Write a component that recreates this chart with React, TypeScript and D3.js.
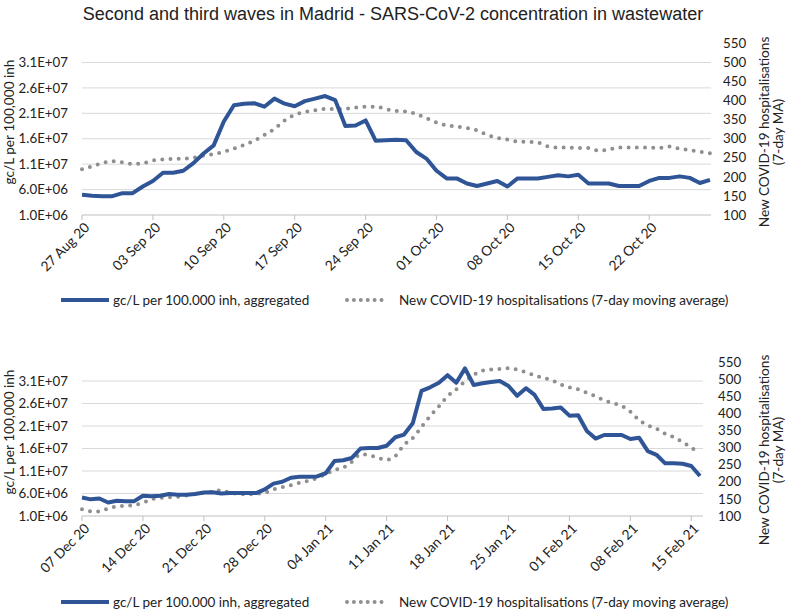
import React from "react";
import * as d3 from "d3";

const TITLE = "Second and third waves in Madrid - SARS-CoV-2 concentration in wastewater";
const LEFT_TITLE = "gc/L per 100,000 inh";
const RIGHT_TITLE_1 = "New COVID-19 hospitalisations";
const RIGHT_TITLE_2 = "(7-day MA)";
const LEGEND_LABELS = ["gc/L per 100.000 inh, aggregated", "New COVID-19 hospitalisations (7-day moving average)"];

const leftTicks = [1e6, 6e6, 1.1e7, 1.6e7, 2.1e7, 2.6e7, 3.1e7];
const rightTicks = [100, 150, 200, 250, 300, 350, 400, 450, 500, 550];

// Second wave: daily from 27 Aug 2020
const topStart = "2020-08-27";
const topConcentration = [
  5.0e6, 4.8e6, 4.7e6, 4.7e6, 5.3e6, 5.3e6, 6.6e6, 7.7e6, 9.3e6, 9.3e6,
  9.7e6, 1.12e7, 1.31e7, 1.47e7, 1.94e7, 2.26e7, 2.29e7, 2.30e7, 2.23e7, 2.39e7,
  2.29e7, 2.24e7, 2.34e7, 2.39e7, 2.44e7, 2.36e7, 1.85e7, 1.86e7, 1.96e7, 1.56e7,
  1.57e7, 1.58e7, 1.57e7, 1.34e7, 1.21e7, 9.7e6, 8.2e6, 8.2e6, 7.2e6, 6.7e6,
  7.2e6, 7.7e6, 6.6e6, 8.2e6, 8.2e6, 8.2e6, 8.5e6, 8.8e6, 8.6e6, 8.9e6,
  7.2e6, 7.2e6, 7.2e6, 6.7e6, 6.7e6, 6.7e6, 7.7e6, 8.3e6, 8.3e6, 8.6e6,
  8.3e6, 7.3e6, 7.9e6,
];
const topHospitalisations = [
  220, 228, 236, 241, 238, 234, 236, 243, 246, 247,
  248, 250, 256, 260, 266, 274, 284, 295, 310, 326,
  348, 363, 370, 375, 378, 378, 379, 382, 384, 384,
  378, 373, 371, 365, 354, 343, 335, 332, 328, 322,
  310, 302, 298, 293, 292, 290, 280, 277, 277, 276,
  276, 269, 272, 277, 277, 277, 277, 276, 280, 274,
  270, 266, 262,
];
const topTicks = ["2020-08-27", "2020-09-03", "2020-09-10", "2020-09-17", "2020-09-24", "2020-10-01", "2020-10-08", "2020-10-15", "2020-10-22"];

// Third wave: daily from 07 Dec 2020
const bottomStart = "2020-12-07";
const bottomConcentration = [
  5.1e6, 4.7e6, 4.9e6, 4.0e6, 4.4e6, 4.3e6, 4.3e6, 5.5e6, 5.4e6, 5.5e6,
  5.9e6, 5.7e6, 5.7e6, 5.9e6, 6.2e6, 6.3e6, 6.0e6, 6.1e6, 6.1e6, 6.1e6,
  6.1e6, 6.9e6, 8.2e6, 8.6e6, 9.5e6, 9.7e6, 9.7e6, 9.8e6, 1.05e7, 1.32e7,
  1.34e7, 1.39e7, 1.60e7, 1.61e7, 1.61e7, 1.66e7, 1.85e7, 1.91e7, 2.16e7, 2.88e7,
  2.96e7, 3.06e7, 3.23e7, 3.06e7, 3.38e7, 3.01e7, 3.05e7, 3.08e7, 3.10e7, 2.99e7,
  2.77e7, 2.94e7, 2.79e7, 2.48e7, 2.49e7, 2.51e7, 2.33e7, 2.34e7, 1.99e7, 1.82e7,
  1.90e7, 1.90e7, 1.90e7, 1.81e7, 1.84e7, 1.54e7, 1.46e7, 1.27e7, 1.27e7, 1.26e7,
  1.21e7, 9.9e6,
];
const bottomHospitalisations = [
  120, 114, 113, 122, 128, 130, 132, 139, 149, 153,
  155, 156, 160, 165, 168, 171, 175, 168, 164, 163,
  165, 168, 178, 184, 190, 197, 203, 211, 222, 234,
  241, 258, 280, 278, 270, 264, 275, 308, 328, 360,
  392, 420, 450, 470, 493, 512, 525, 528, 530, 532,
  528, 520, 511, 503, 497, 484, 476, 470, 460, 450,
  438, 430, 422, 405, 380, 365, 355, 340, 330, 316,
  300, 282,
];
const bottomTicks = ["2020-12-07", "2020-12-14", "2020-12-21", "2020-12-28", "2021-01-04", "2021-01-11", "2021-01-18", "2021-01-25", "2021-02-01", "2021-02-08", "2021-02-15"];

const BLUE = "#2f5597";
const GREY = "#8f8f8f";
const GRID = "#d9d9d9";
const AXIS_FONT = "Lato, 'Open Sans', sans-serif";
const FS = 13.3;

const parse = d3.utcParse("%Y-%m-%d");
const fmtDate = d3.utcFormat("%d %b %y");
function fmtE(v: number): string {
  const [m, e] = v.toExponential(1).split("e");
  const n = +e;
  return m + "E" + (n < 0 ? "-" : "+") + String(Math.abs(n)).padStart(2, "0");
}

type PanelProps = {
  start: string;
  conc: number[];
  hosp: number[];
  ticks: string[];
  xLeft: number;
  xRight: number;
  gridRight: number;
  yBase: number;
  yLeftTop: number;
  yRightTop: number;
  rightLabelX: number;
  rightTitleY: number;
  leftTitleY: number;
  legendY: number;
};

function Panel(p: PanelProps) {
  const startDate = parse(p.start) as Date;
  const dates = p.conc.map((_, i) => d3.utcDay.offset(startDate, i));
  const x = d3.scaleUtc().domain([dates[0], dates[dates.length - 1]]).range([p.xLeft, p.xRight]);
  const yL = d3.scaleLinear().domain([1e6, 3.1e7]).range([p.yBase, p.yLeftTop]);
  const yR = d3.scaleLinear().domain([100, 550]).range([p.yBase, p.yRightTop]);
  const concLine = d3.line<number>().x((_, i) => x(dates[i])).y((d) => yL(d));
  const hospLine = d3.line<number>().x((_, i) => x(dates[i])).y((d) => yR(d)).curve(d3.curveMonotoneX);
  const tickDates = p.ticks.map((t) => parse(t) as Date);
  return (
    <g>
      {leftTicks.map((t) => (
        <g key={"l" + t}>
          {t !== 1e6 && (
            <line x1={p.xLeft} x2={p.gridRight} y1={yL(t)} y2={yL(t)} stroke={GRID} strokeWidth={1} />
          )}
          <text x={68} y={yL(t)} dy="0.35em" textAnchor="end" fontSize={FS} fontFamily={AXIS_FONT} fill="#222">
            {fmtE(t)}
          </text>
        </g>
      ))}
      <line x1={p.xLeft} x2={p.gridRight} y1={p.yBase} y2={p.yBase} stroke="#bfbfbf" strokeWidth={1} />
      {tickDates.map((d, i) => (
        <g key={"x" + i}>
          <line x1={x(d)} x2={x(d)} y1={p.yBase} y2={p.yBase + 5} stroke="#bfbfbf" strokeWidth={1} />
          <text
            transform={`translate(${x(d) + 5},${p.yBase + 10}) rotate(-45)`}
            textAnchor="end"
            dy="0.35em"
            fontSize={FS + 0.4}
            fontFamily={AXIS_FONT}
            fill="#222"
          >
            {fmtDate(d)}
          </text>
        </g>
      ))}
      {rightTicks.map((t) => (
        <text key={"r" + t} x={p.rightLabelX} y={yR(t)} dy="0.35em" fontSize={FS} fontFamily={AXIS_FONT} fill="#222">
          {t}
        </text>
      ))}
      <text transform={`translate(14,${p.leftTitleY}) rotate(-90)`} textAnchor="middle" fontSize={13.6} fontFamily={AXIS_FONT} fill="#222">
        {LEFT_TITLE}
      </text>
      <text transform={`translate(769,${p.rightTitleY}) rotate(-90)`} textAnchor="middle" fontSize={13.6} fontFamily={AXIS_FONT} fill="#222">
        {RIGHT_TITLE_1}
      </text>
      <text transform={`translate(783,${p.rightTitleY}) rotate(-90)`} textAnchor="middle" fontSize={13.6} fontFamily={AXIS_FONT} fill="#222">
        {RIGHT_TITLE_2}
      </text>
      <path d={hospLine(p.hosp) || ""} fill="none" stroke={GREY} strokeWidth={4} strokeLinecap="round" strokeDasharray="0 8.2" />
      <path d={concLine(p.conc) || ""} fill="none" stroke={BLUE} strokeWidth={4} strokeLinejoin="round" />
      <line x1={61} x2={109} y1={p.legendY} y2={p.legendY} stroke={BLUE} strokeWidth={4} />
      <text x={113} y={p.legendY} dy="0.35em" fontSize={FS + 0.2} fontFamily={AXIS_FONT} fill="#222">
        {LEGEND_LABELS[0]}
      </text>
      <line x1={347} x2={382} y1={p.legendY} y2={p.legendY} stroke={GREY} strokeWidth={4} strokeLinecap="round" strokeDasharray="0 6.9" />
      <text x={399} y={p.legendY} dy="0.35em" fontSize={FS + 0.2} fontFamily={AXIS_FONT} fill="#222">
        {LEGEND_LABELS[1]}
      </text>
    </g>
  );
}

export default function App() {
  return (
    <svg width={787} height={612} style={{ position: "absolute", left: 0, top: 0, background: "#fff" }}>
      <rect width={787} height={612} fill="#fff" />
      <text x={393} y={20} textAnchor="middle" fontSize={18} fontFamily="'Liberation Sans', Arial, sans-serif" fill="#222">
        {TITLE}
      </text>
      <Panel
        start={topStart}
        conc={topConcentration}
        hosp={topHospitalisations}
        ticks={topTicks}
        xLeft={82}
        xRight={710}
        gridRight={711}
        yBase={215}
        yLeftTop={62.5}
        yRightTop={43.5}
        rightLabelX={723}
        rightTitleY={132}
        leftTitleY={122}
        legendY={300}
      />
      <Panel
        start={bottomStart}
        conc={bottomConcentration}
        hosp={bottomHospitalisations}
        ticks={bottomTicks}
        xLeft={82}
        xRight={700}
        gridRight={703}
        yBase={516}
        yLeftTop={381}
        yRightTop={362}
        rightLabelX={718}
        rightTitleY={450}
        leftTitleY={432}
        legendY={602}
      />
    </svg>
  );
}
